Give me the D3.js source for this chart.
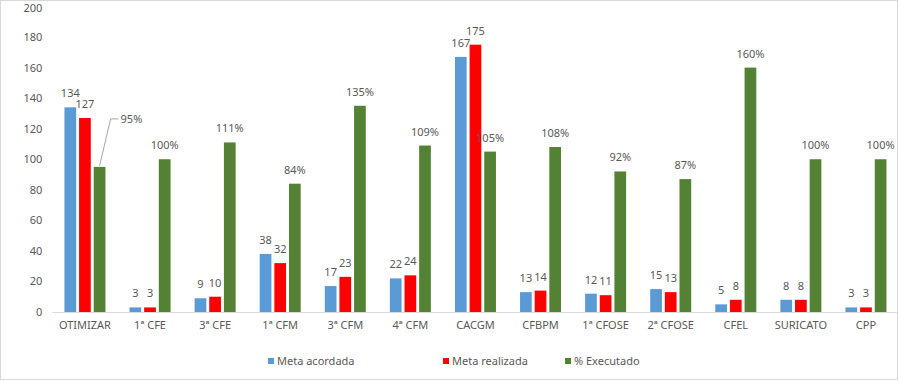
<!DOCTYPE html>
<html>
<head>
<meta charset="utf-8">
<script src="https://cdn.jsdelivr.net/npm/d3@7"></script>
<style>
  body { margin: 0; background: #fff; }
  text { font-family: "Noto Sans", "Open Sans", sans-serif; fill: #595959; }
</style>
</head>
<body>
<svg id="chart" width="899" height="381"></svg>
<script>
// data
const categories = ["OTIMIZAR", "1ª CFE", "3ª CFE", "1ª CFM", "3ª CFM", "4ª CFM", "CACGM",
    "CFBPM", "1ª CFOSE", "2ª CFOSE", "CFEL", "SURICATO", "CPP"];
const metaAcordada = [134, 3, 9, 38, 17, 22, 167, 13, 12, 15, 5, 8, 3];
const metaRealizada = [127, 3, 10, 32, 23, 24, 175, 14, 11, 13, 8, 8, 3];
const pctExecutado = [95, 100, 111, 84, 135, 109, 105, 108, 92, 87, 160, 100, 100];
const yTicks = [0, 20, 40, 60, 80, 100, 120, 140, 160, 180, 200];

const seriesNames = ["Meta acordada", "Meta realizada", "% Executado"];
const seriesColors = ["#5b9bd5", "#ff0000", "#548235"];

const svg = d3.select("#chart");

// frame
svg.append("rect")
    .attr("x", 0.5).attr("y", 0.5)
    .attr("width", 897).attr("height", 379)
    .attr("fill", "none").attr("stroke", "#d9d9d9");

const plot = {left: 52.4, right: 898.5, top: 6.5, bottom: 312};

const x = d3.scaleBand().domain(categories).range([plot.left, plot.right]);
const xInner = d3.scaleBand().domain([0, 1, 2]).range([-20.5, 20.5]).paddingInner(0.2);
const y = d3.scaleLinear().domain([0, 200]).range([plot.bottom, plot.top]);

// y axis labels
const yAxis = svg.append("g")
    .attr("transform", "translate(" + (plot.left - 10) + ",0)")
    .call(d3.axisLeft(y).tickValues(yTicks).tickSize(0).tickPadding(0));
yAxis.select(".domain").remove();
yAxis.selectAll("text").attr("font-size", "11px").attr("fill", "#595959")
    .style("font-family", "'Noto Sans', sans-serif")
    .attr("dy", d => d === 200 ? "0.45em" : "0.32em");

// x axis
const xAxis = svg.append("g")
    .attr("transform", "translate(0," + plot.bottom + ")")
    .call(d3.axisBottom(x).tickSize(0).tickPadding(9));
xAxis.select(".domain").attr("stroke", "#d9d9d9").attr("d", "M" + plot.left + ",0.5H" + (plot.right - 1.5));
xAxis.selectAll("text").attr("font-size", "11px").attr("fill", "#595959")
    .style("font-family", "'Noto Sans', sans-serif");

const table = categories.map((c, i) => ({
    cat: c,
    vals: [metaAcordada[i], metaRealizada[i], pctExecutado[i]]
}));

const groups = svg.selectAll(".grp")
    .data(table)
    .enter().append("g")
    .attr("class", "grp")
    .attr("transform", d => "translate(" + (x(d.cat) + x.bandwidth() / 2) + ",0)");

groups.selectAll("rect")
    .data(d => d.vals.map((v, k) => ({k: k, v: v})))
    .enter().append("rect")
    .attr("x", d => xInner(d.k))
    .attr("width", xInner.bandwidth())
    .attr("y", d => y(d.v))
    .attr("height", d => plot.bottom - y(d.v))
    .attr("fill", d => seriesColors[d.k]);

groups.each(function(d, i) {
    const g = d3.select(this);
    d.vals.forEach((v, k) => {
        const label = k === 2 ? v + "%" : String(v);
        const cx = xInner(k) + xInner.bandwidth() / 2;
        if (i === 0 && k === 2) {
            // leader line for the first percentage label
            g.append("path")
                .attr("d", "M" + cx + "," + (y(v) - 1) + "L" + (cx + 11) + "," + (y(v) - 48) + "H" + (cx + 19))
                .attr("fill", "none").attr("stroke", "#a6a6a6").attr("stroke-width", 1);
            g.append("text")
                .attr("x", cx + 21).attr("y", y(v) - 48)
                .attr("dy", "0.35em")
                .attr("font-size", "11px")
                .text(label);
            return;
        }
        g.append("text")
            .attr("x", cx).attr("y", y(v) - 10)
            .attr("text-anchor", "middle")
            .attr("font-size", "11px")
            .text(label);
    });
});

// legend
const legendX = [268, 443, 565];
const legend = svg.selectAll(".leg")
    .data(seriesNames)
    .enter().append("g")
    .attr("class", "leg")
    .attr("transform", (d, i) => "translate(" + legendX[i] + ",358)");
legend.append("rect")
    .attr("width", 6).attr("height", 6)
    .attr("fill", (d, i) => seriesColors[i]);
legend.append("text")
    .attr("x", 9).attr("y", 3).attr("dy", "0.35em")
    .attr("font-size", "11px")
    .text(d => d);
</script>
</body>
</html>
